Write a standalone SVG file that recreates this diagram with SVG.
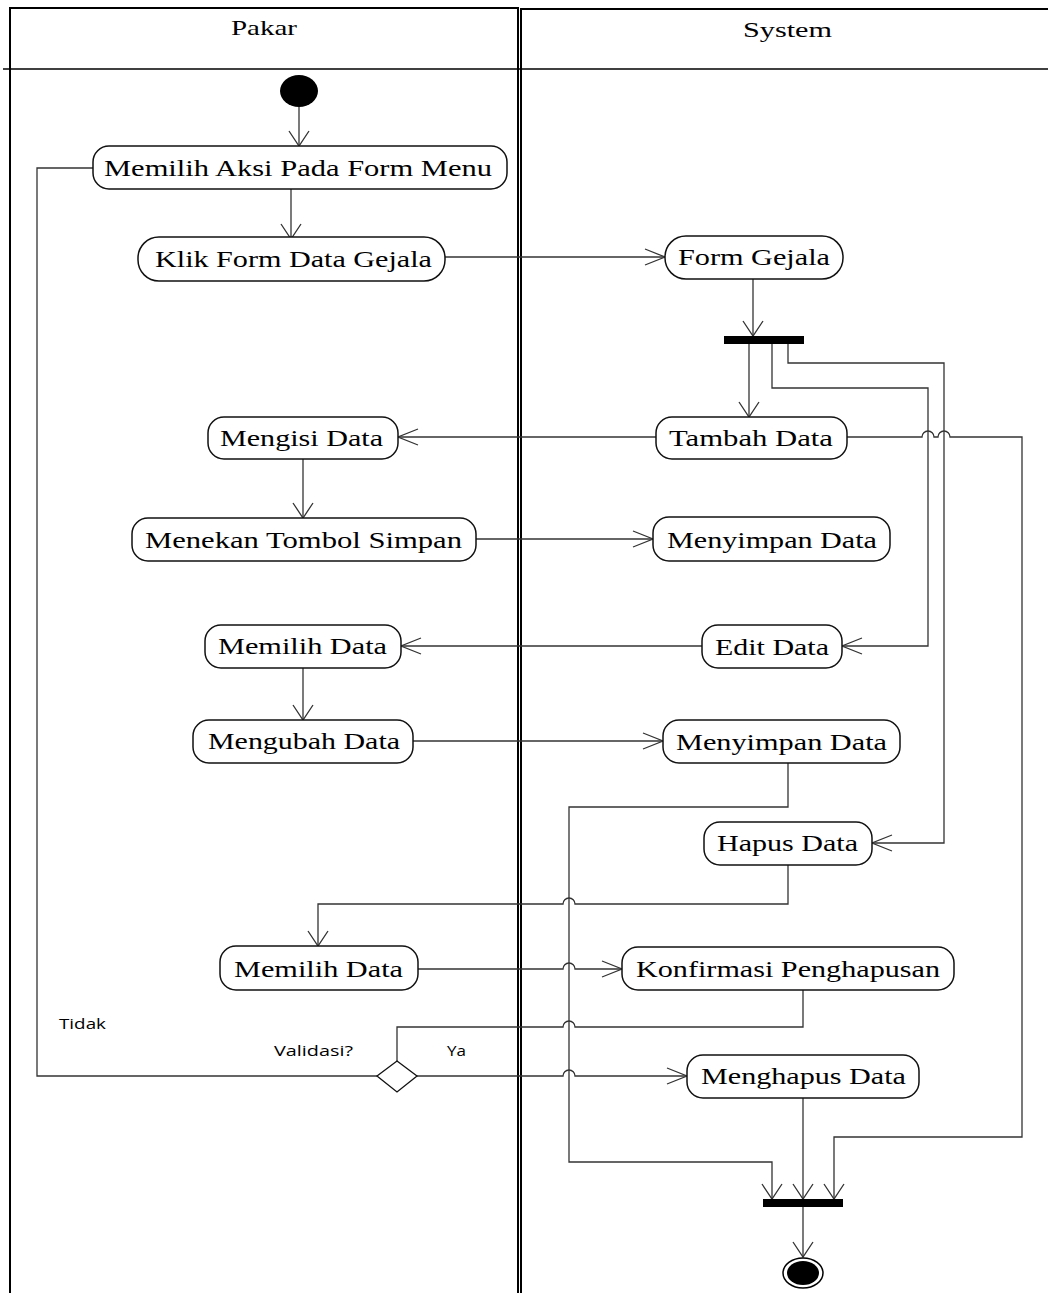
<svg xmlns="http://www.w3.org/2000/svg" width="1048" height="1293" viewBox="0 0 1048 1293">
<style>
.lane{fill:none;stroke:#000;stroke-width:2}
.node rect{fill:#fff;stroke:#111;stroke-width:1.5}
.node text,.hdr{font-family:"Liberation Serif","Times New Roman",serif;font-size:24px;fill:#000}
.hdr{font-size:22px}
.lbl{font-family:"Open Sans","DejaVu Sans",sans-serif;font-size:14.5px;fill:#000}
.c{fill:none;stroke:#333;stroke-width:1.3}
.ah{marker-end:url(#ah)}
.av{marker-end:url(#av)}
</style>
<defs>
<marker id="ah" markerUnits="userSpaceOnUse" markerWidth="24" markerHeight="20" refX="21" refY="10" orient="auto">
<path d="M1,2 L21,10 L1,18" fill="none" stroke="#333" stroke-width="1.3"/>
</marker>
<marker id="av" markerUnits="userSpaceOnUse" markerWidth="20" markerHeight="24" refX="16" refY="11" orient="auto">
<path d="M1,1 L16,11 L1,21" fill="none" stroke="#333" stroke-width="1.3"/>
</marker>
</defs>

<g id="lanes">
<rect class="lane" x="10" y="8" width="508" height="1300"/>
<rect class="lane" x="521" y="9" width="540" height="1300"/>
<line x1="3" y1="69" x2="1048" y2="69" stroke="#000" stroke-width="1.5"/>
<text class="hdr" x="231" y="35" textLength="66" lengthAdjust="spacingAndGlyphs">Pakar</text>
<text class="hdr" x="743" y="37" textLength="89" lengthAdjust="spacingAndGlyphs">System</text>
</g>

<g id="connectors">
<path class="c av" d="M299,107 V146"/>
<path class="c av" d="M291,189 V239"/>
<path class="c ah" d="M445,257 H665"/>
<path class="c av" d="M753,279 V336"/>
<path class="c av" d="M749,344 V417"/>
<path class="c ah" d="M772,344 V388 H928 V646 H842"/>
<path class="c ah" d="M788,344 V363 H944 V843 H872"/>
<path class="c ah" d="M656,437 H398"/>
<path class="c av" d="M847,437 H922 A6,6 0 0 1 934,437 H938 A6,6 0 0 1 950,437 H1022 V1137 H834 V1199"/>
<path class="c av" d="M303,459 V518"/>
<path class="c ah" d="M476,539 H653"/>
<path class="c ah" d="M702,646 H401"/>
<path class="c av" d="M303,668 V720"/>
<path class="c ah" d="M413,741 H663"/>
<path class="c av" d="M788,763 V807 H569 V1162 H772 V1199"/>
<path class="c av" d="M788,865 V904 H575 A6,6 0 0 0 563,904 H318 V946"/>
<path class="c ah" d="M418,969 H563 A6,6 0 0 1 575,969 H622"/>
<path class="c" d="M803,990 V1027 H575 A6,6 0 0 0 563,1027 H397 V1061"/>
<path class="c" d="M377,1076 H37 V168 H93"/>
<path class="c ah" d="M417,1076 H563 A6,6 0 0 1 575,1076 H687"/>
<path class="c av" d="M803,1098 V1199"/>
<path class="c av" d="M803,1207 V1257"/>
</g>

<g id="start"><ellipse cx="299" cy="91" rx="19" ry="16" fill="#000"/></g>

<g id="n1" class="node"><rect x="93" y="146" width="414" height="43" rx="16"/><text x="104" y="176" textLength="388" lengthAdjust="spacingAndGlyphs">Memilih Aksi Pada Form Menu</text></g>
<g id="n2" class="node"><rect x="138" y="237" width="307" height="44" rx="21"/><text x="155" y="267" textLength="277" lengthAdjust="spacingAndGlyphs">Klik Form Data Gejala</text></g>
<g id="n3" class="node"><rect x="665" y="236" width="178" height="43" rx="21"/><text x="678" y="265" textLength="152" lengthAdjust="spacingAndGlyphs">Form Gejala</text></g>
<g id="fork"><rect x="724" y="336" width="80" height="8" fill="#000"/></g>
<g id="n4" class="node"><rect x="656" y="417" width="191" height="42" rx="16"/><text x="669" y="446" textLength="164" lengthAdjust="spacingAndGlyphs">Tambah Data</text></g>
<g id="n5" class="node"><rect x="208" y="417" width="190" height="42" rx="16"/><text x="220" y="446" textLength="163" lengthAdjust="spacingAndGlyphs">Mengisi Data</text></g>
<g id="n6" class="node"><rect x="132" y="518" width="344" height="43" rx="16"/><text x="145" y="548" textLength="317" lengthAdjust="spacingAndGlyphs">Menekan Tombol Simpan</text></g>
<g id="n7" class="node"><rect x="653" y="517" width="237" height="44" rx="16"/><text x="667" y="548" textLength="210" lengthAdjust="spacingAndGlyphs">Menyimpan Data</text></g>
<g id="n8" class="node"><rect x="702" y="625" width="140" height="43" rx="16"/><text x="715" y="655" textLength="114" lengthAdjust="spacingAndGlyphs">Edit Data</text></g>
<g id="n9" class="node"><rect x="205" y="625" width="196" height="43" rx="16"/><text x="218" y="654" textLength="169" lengthAdjust="spacingAndGlyphs">Memilih Data</text></g>
<g id="n10" class="node"><rect x="193" y="720" width="220" height="43" rx="16"/><text x="208" y="749" textLength="192" lengthAdjust="spacingAndGlyphs">Mengubah Data</text></g>
<g id="n11" class="node"><rect x="663" y="720" width="237" height="43" rx="16"/><text x="676" y="750" textLength="211" lengthAdjust="spacingAndGlyphs">Menyimpan Data</text></g>
<g id="n12" class="node"><rect x="704" y="822" width="168" height="43" rx="16"/><text x="717" y="851" textLength="141" lengthAdjust="spacingAndGlyphs">Hapus Data</text></g>
<g id="n13" class="node"><rect x="220" y="946" width="198" height="44" rx="16"/><text x="234" y="977" textLength="169" lengthAdjust="spacingAndGlyphs">Memilih Data</text></g>
<g id="n14" class="node"><rect x="622" y="947" width="332" height="43" rx="16"/><text x="636" y="977" textLength="304" lengthAdjust="spacingAndGlyphs">Konfirmasi Penghapusan</text></g>
<g id="decision"><polygon points="397,1061 417,1076 397,1092 377,1076" fill="#fff" stroke="#111" stroke-width="1.3"/></g>
<g id="n15" class="node"><rect x="687" y="1055" width="232" height="43" rx="16"/><text x="701" y="1084" textLength="205" lengthAdjust="spacingAndGlyphs">Menghapus Data</text></g>
<g id="join"><rect x="763" y="1199" width="80" height="8" fill="#000"/></g>
<g id="end"><ellipse cx="803" cy="1273" rx="20" ry="15" fill="#fff" stroke="#000" stroke-width="1.5"/><ellipse cx="803" cy="1273" rx="16" ry="12" fill="#000"/></g>

<g id="labels">
<text class="lbl" x="59" y="1029" textLength="47" lengthAdjust="spacingAndGlyphs">Tidak</text>
<text class="lbl" x="274" y="1056" textLength="79" lengthAdjust="spacingAndGlyphs">Validasi?</text>
<text class="lbl" x="447" y="1056" textLength="19" lengthAdjust="spacingAndGlyphs">Ya</text>
</g>
</svg>
